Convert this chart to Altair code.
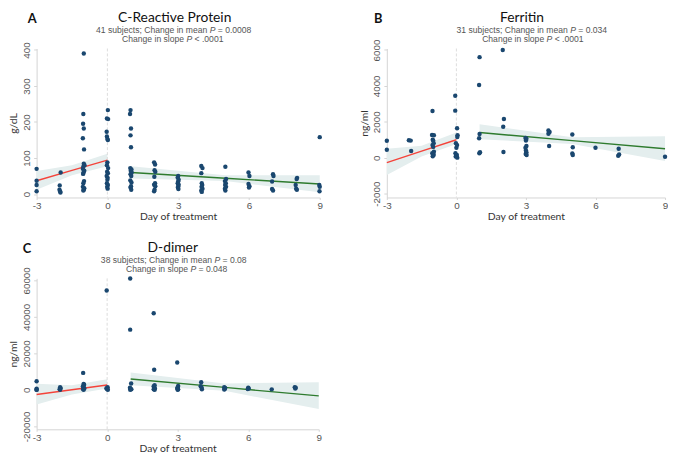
import altair as alt
import pandas as pd

# ---------------- data: C-Reactive Protein ----------------
crp_day = [-3, -3, -3, -3,
           -1.98, -2.02, -2.03, -2.0, -1.99,
           -1.0, -1.02, -1.03, -1.0, -1.04, -0.99, -1.0, -0.97, -1.02, -1.04, -0.98, -1.01, -1.03, -0.99, -1.02, -1.04, -0.98, -1.0, -1.02,
           0.02, -0.02, 0.03, -0.03, -0.02, 0.0, 0.02, 0.0, -0.02, 0.03, -0.01, 0.02, -0.03, 0.01, 0.0, -0.02, 0.02, -0.01, 0.01,
           0.98, 0.96, 1.0, 0.98, 1.0, 0.97, 1.02, 0.99, 1.03, 0.98, 1.01, 0.97, 1.02, 1.0, 0.98, 1.01,
           1.98, 2.02, 2.0, 2.03, 1.99, 2.02, 1.98, 2.03, 2.0, 1.98,
           3.0, 2.98, 3.02, 3.0, 2.98, 3.02, 3.0, 2.99, 3.01,
           3.98, 4.03, 3.98, 4.0, 4.02, 3.99, 4.03, 3.98, 4.0,
           5.0, 5.03, 4.98, 5.02, 4.99, 5.03, 4.98, 5.0,
           5.98, 6.02, 5.98, 6.02, 6.0,
           7.02, 7.04, 6.98, 6.98, 7.02,
           8.04, 8.02, 7.98, 8.0, 8.03,
           9.0, 8.98, 9.0, 8.99]
crp_val = [70, 37, 25, 8,
           60, 24, 12, 7, 4,
           390, 222, 195, 182, 155, 124, 84, 80, 76, 70, 65, 60, 56, 36, 30, 20, 16, 12, 10,
           233, 210, 208, 173, 160, 153, 150, 88, 80, 72, 62, 58, 50, 45, 40, 30, 25, 20, 15,
           233, 222, 182, 163, 130, 72, 68, 65, 60, 55, 50, 38, 32, 22, 18, 12,
           88, 82, 66, 62, 48, 30, 26, 22, 12, 8,
           50, 46, 40, 35, 30, 26, 22, 18, 14,
           78, 72, 58, 30, 25, 20, 15, 10, 6,
           76, 42, 36, 30, 25, 20, 15, 10,
           60, 50, 28, 22, 18,
           55, 50, 35, 14, 10,
           45, 42, 25, 15, 12,
           158, 25, 20, 8]
crp_red_x = [-3, -1.5, 0]
crp_red_fit = [37, 65.5, 94]
crp_red_lo = [12, 52, 77]
crp_red_hi = [64, 80, 112]
crp_green_x = [1, 5, 9]
crp_green_fit = [60, 44, 28]
crp_green_lo = [43, 36, 5]
crp_green_hi = [77, 52, 52]

# ---------------- data: Ferritin ----------------
fer_day = [-3, -3,
           -2.05, -1.97, -1.95,
           -1.03, -1.05, -0.97, -1.02, -1.0, -0.98, -1.03, -1.0, -0.97, -1.04, -1.0, -0.98, -1.02,
           -0.05, -0.05, 0.03, 0.05, 0.04, -0.02, 0.03, 0.0, -0.04, 0.02, -0.03, 0.04,
           1.0, 0.98, 1.0, 0.98, 1.02, 0.99,
           2.0, 2.05, 2.02, 2.03,
           2.98, 3.02, 3.0, 3.02, 2.98, 3.0, 3.02, 2.99, 3.03,
           3.97, 4.02, 3.97, 4.0,
           5.0, 5.02, 5.0, 5.02,
           6.0,
           7.0, 7.02, 6.98,
           9.0]
fer_val = [940, 440,
           970, 950, 370,
           2600, 1260, 1250, 1000, 950, 800, 700, 600, 330, 250, 200, 150, 80,
           3450, 2620, 1640, 1250, 1150, 800, 700, 550, 250, 150, 60, 0,
           5600, 4050, 1320, 1080, 300, 250,
           6000, 2150, 1720, 320,
           1100, 1050, 950, 650, 550, 400, 300, 200, 150,
           1520, 1430, 1330, 650,
           1290, 580, 230, 150,
           550,
           500, 180, 110,
           50]
fer_red_x = [-3, -1.5, 0]
fer_red_fit = [-280, 360, 1000]
fer_red_lo = [-970, 60, 760]
fer_red_hi = [495, 660, 1400]
fer_green_x = [1, 5, 9]
fer_green_fit = [1400, 950, 500]
fer_green_lo = [1030, 760, -180]
fer_green_hi = [1860, 1140, 1200]

# ---------------- data: D-dimer ----------------
dd_day = [-3, -3, -3, -3,
          -2.0, -1.98, -2.02, -2.0,
          -1.02, -1.0, -0.98, -1.03, -1.0, -0.97, -1.02, -1.0,
          -0.02, 0.02, -0.03, 0.0, 0.03,
          0.98, 0.98, 1.02, 0.97, 1.0, 1.03, 0.98,
          1.98, 2.0, 2.02, 1.98, 2.0, 2.03, 1.98, 2.02,
          2.98, 3.02, 3.0, 2.98, 3.02, 3.0,
          4.0, 3.98, 4.02, 4.03,
          4.98, 5.02, 5.0, 4.98,
          6.0, 6.02, 5.98,
          7.0,
          7.98, 8.02, 8.0]
dd_val = [4700, 600, 200, 0,
          1500, 900, 400, 100,
          9300, 3300, 2800, 2000, 1400, 800, 400, 100,
          54500, 1500, 900, 400, 100,
          61000, 33000, 3500, 1200, 700, 300, 100,
          42000, 11000, 2500, 2000, 1400, 800, 300, 100,
          15000, 2200, 1400, 800, 300, 100,
          4200, 2000, 1200, 300,
          1500, 1000, 500, 200,
          1200, 800, 500,
          300,
          1500, 1200, 800]
dd_red_x = [-3, -1.5, 0]
dd_red_fit = [-2500, 100, 2700]
dd_red_lo = [-8000, -2500, 700]
dd_red_hi = [3300, 2500, 5800]
dd_green_x = [1, 5, 9]
dd_green_fit = [6000, 1350, -3300]
dd_green_lo = [2500, -500, -10500]
dd_green_hi = [9500, 3500, 4200]

x_ticks = [-3, 0, 3, 6, 9]
crp_ticks = [0, 100, 200, 300, 400]
fer_ticks = [-2000, 0, 2000, 4000, 6000]
dd_ticks = [-20000, 0, 20000, 40000, 60000]

titles = ["C-Reactive Protein", "Ferritin", "D-dimer"]
# subtitle lines: text before the italic "P", and text after it
sub1_pre = ["41 subjects; Change in mean", "31 subjects; Change in mean", "38 subjects; Change in mean"]
sub1_post = ["= 0.0008", "= 0.034", "= 0.08"]
sub2_pre = ["Change in slope", "Change in slope", "Change in slope"]
sub2_post = ["< .0001", "< .0001", "= 0.048"]
letters = ["A", "B", "C"]
y_titles = ["g/dL", "ng/ml", "ng/ml"]

NAVY = "#1a476f"
RED = "#f4433a"
GREEN = "#2e7b2e"
BAND = "#e4eeee"
SUB_SIZE = 8.7

# Arial / Liberation Sans advance widths (per 1000 em) for laying out the subtitle pieces
_W = {" ": 278, ".": 278, ";": 278, "=": 584, "<": 584, "P": 667, "C": 722,
      "a": 556, "b": 556, "c": 500, "e": 556, "g": 556, "h": 556, "i": 222,
      "j": 222, "l": 222, "m": 833, "n": 556, "o": 556, "p": 556, "s": 500,
      "t": 278, "u": 556}


def tw(s, size=SUB_SIZE):
    return sum(_W.get(ch, 556) for ch in s) / 1000.0 * size


def sub_line(pre, post, cx, y):
    w_pre = tw(pre + " ")
    w_p = tw("P")
    w_post = tw(" " + post)
    x0 = cx - (w_pre + w_p + w_post) / 2.0
    d = pd.DataFrame({"t": [pre], "p": ["P"], "s": [post]})
    base = dict(font="Liberation Sans", fontSize=SUB_SIZE, color="#555555",
                align="left", baseline="alphabetic")
    a = alt.Chart(d).mark_text(**base).encode(x=alt.value(x0), y=alt.value(y), text="t:N")
    b = alt.Chart(d).mark_text(fontStyle="italic", **base).encode(
        x=alt.value(x0 + w_pre), y=alt.value(y), text="p:N")
    c = alt.Chart(d).mark_text(**base).encode(
        x=alt.value(x0 + w_pre + w_p + tw(" ")), y=alt.value(y), text="s:N")
    return [a, b, c]


def panel(i, day, val, rx, rfit, rlo, rhi, gx, gfit, glo, ghi, ydom, yticks,
          w, h, tx, s1x, s2x, lx):
    xs = alt.Scale(domain=[-3, 9], nice=False, zero=False)
    ys = alt.Scale(domain=ydom, nice=False, zero=False)
    xax = alt.Axis(values=x_ticks, title="Day of treatment", labelExpr="'' + datum.value")
    yax = alt.Axis(values=yticks, title=y_titles[i], labelExpr="'' + datum.value")

    def X(f):
        return alt.X(f, type="quantitative", scale=xs, axis=xax)

    def Y(f):
        return alt.Y(f, type="quantitative", scale=ys, axis=yax)

    pts = pd.DataFrame({"x": day, "y": val})
    red = pd.DataFrame({"x": rx, "fit": rfit, "lo": rlo, "hi": rhi})
    grn = pd.DataFrame({"x": gx, "fit": gfit, "lo": glo, "hi": ghi})
    zero = pd.DataFrame({"x": [0]})

    band_r = alt.Chart(red).mark_area(color=BAND).encode(x=X("x"), y=Y("lo"), y2=alt.Y2("hi"))
    band_g = alt.Chart(grn).mark_area(color=BAND).encode(x=X("x"), y=Y("lo"), y2=alt.Y2("hi"))
    vline = alt.Chart(zero).mark_rule(color="#dcdcdc", strokeDash=[3, 2], strokeWidth=1).encode(x=X("x"))
    line_r = alt.Chart(red).mark_line(color=RED, strokeWidth=1.4).encode(x=X("x"), y=Y("fit"))
    line_g = alt.Chart(grn).mark_line(color=GREEN, strokeWidth=1.4).encode(x=X("x"), y=Y("fit"))
    dots = alt.Chart(pts).mark_circle(color=NAVY, size=20, opacity=1).encode(x=X("x"), y=Y("y"))

    txt = pd.DataFrame({"t": [titles[i]], "l": [letters[i]]})
    t_title = alt.Chart(txt).mark_text(font="Lato", fontSize=14, color="#111111",
                                       align="center", baseline="alphabetic").encode(
        x=alt.value(tx), y=alt.value(-26.5), text="t:N")
    t_l = alt.Chart(txt).mark_text(font="Lato", fontSize=13, fontWeight="bold", color="#111111",
                                   align="left", baseline="alphabetic").encode(
        x=alt.value(lx), y=alt.value(-26), text="l:N")
    subs = sub_line(sub1_pre[i], sub1_post[i], s1x, -16) + sub_line(sub2_pre[i], sub2_post[i], s2x, -6.5)

    return alt.layer(band_r, band_g, vline, line_r, line_g, dots,
                     t_title, t_l, *subs).properties(width=w, height=h)


pA = panel(0, crp_day, crp_val, crp_red_x, crp_red_fit, crp_red_lo, crp_red_hi,
           crp_green_x, crp_green_fit, crp_green_lo, crp_green_hi,
           [-9.5, 404], crp_ticks, 287, 151, 140, 139, 138, -9)
pB = panel(1, fer_day, fer_val, fer_red_x, fer_red_fit, fer_red_lo, fer_red_hi,
           fer_green_x, fer_green_fit, fer_green_lo, fer_green_hi,
           [-2218, 6082], fer_ticks, 282, 151, 137, 147, 148, -13)
pC = panel(2, dd_day, dd_val, dd_red_x, dd_red_fit, dd_red_lo, dd_red_hi,
           dd_green_x, dd_green_fit, dd_green_lo, dd_green_hi,
           [-21600, 61100], dd_ticks, 286, 153, 138, 139, 142, -14)

chart = alt.vconcat(
    alt.hconcat(pA, pB, spacing=36),
    pC,
    spacing=19,
).properties(padding=0).configure_view(stroke=None).configure_axis(
    grid=False,
    domainColor="#d4d4d4",
    tickColor="#d4d4d4",
    labelColor="#555555",
    labelFont="Liberation Sans",
    labelFontSize=10,
    titleFont="Lato",
    titleFontSize=10.5,
    titleFontWeight="normal",
    titleColor="#333333",
    labelFlush=False,
    labelOverlap=False,
).configure_axisX(
    tickSize=2, labelPadding=1, titlePadding=1,
).configure_axisY(
    tickSize=3, labelPadding=2, labelAngle=270, titlePadding=3,
)

chart.save("out.html", embed_options={"renderer": "svg", "actions": False})
